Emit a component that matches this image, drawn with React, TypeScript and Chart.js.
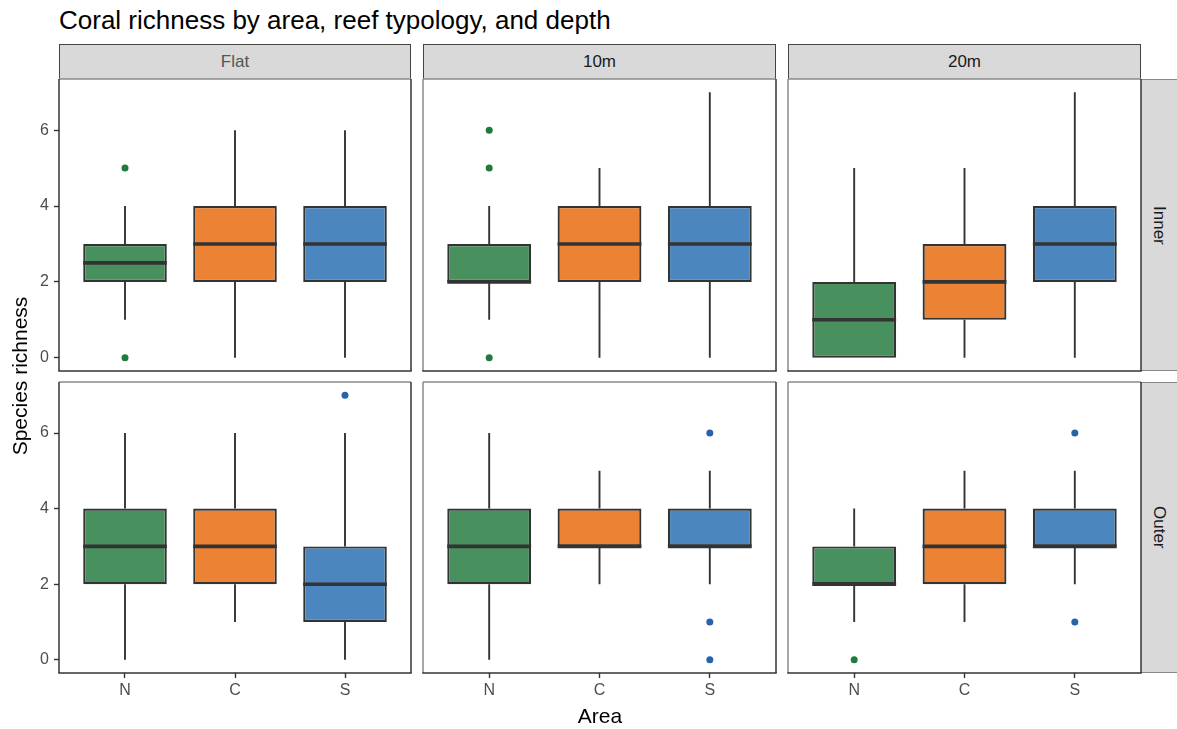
import React, { useEffect, useRef } from 'react';
import { Chart, registerables } from 'chart.js';
Chart.register(...registerables);

const FONT = '"Liberation Sans", Arial, Helvetica, sans-serif';

const AREAS = ['N', 'C', 'S'];
const DEPTHS = ['Flat', '10m', '20m'];
const TYPOLOGIES = ['Inner', 'Outer'];
const Y_TICKS = [0, 2, 4, 6];
const AREA_FILL = ['#48915E', '#EB8234', '#4C86BE'];
const AREA_POINT = ['#1F7A3B', '#D9691C', '#2763A8'];

// [lower whisker, q1, median, q3, upper whisker] for N, C, S
const INNER_FLAT = [[1, 2, 2.5, 3, 4], [0, 2, 3, 4, 6], [0, 2, 3, 4, 6]];
const INNER_10M = [[1, 2, 2, 3, 4], [0, 2, 3, 4, 5], [0, 2, 3, 4, 7]];
const INNER_20M = [[0, 0, 1, 2, 5], [0, 1, 2, 3, 5], [0, 2, 3, 4, 7]];
const OUTER_FLAT = [[0, 2, 3, 4, 6], [1, 2, 3, 4, 6], [0, 1, 2, 3, 6]];
const OUTER_10M = [[0, 2, 3, 4, 6], [2, 3, 3, 4, 5], [2, 3, 3, 4, 5]];
const OUTER_20M = [[1, 2, 2, 3, 4], [1, 2, 3, 4, 5], [2, 3, 3, 4, 5]];

// outliers for N, C, S
const INNER_FLAT_OUT = [[0, 5], [], []];
const INNER_10M_OUT = [[0, 5, 6], [], []];
const INNER_20M_OUT = [[], [], []];
const OUTER_FLAT_OUT = [[], [], [7]];
const OUTER_10M_OUT = [[], [], [6, 1, 0]];
const OUTER_20M_OUT = [[0], [], [6, 1]];

const PANEL_STATS = [
  [INNER_FLAT, INNER_10M, INNER_20M],
  [OUTER_FLAT, OUTER_10M, OUTER_20M],
];
const PANEL_OUT = [
  [INNER_FLAT_OUT, INNER_10M_OUT, INNER_20M_OUT],
  [OUTER_FLAT_OUT, OUTER_10M_OUT, OUTER_20M_OUT],
];

// layout (pixels)
const COL_X0 = [59, 423, 788];
const COL_X1 = [411, 776, 1141];
const ROW_Y0 = [79, 382];
const ROW_Y1 = [371, 673];
const STRIP_TOP = 44;
const STRIP_W = 36;

function Panel({ row, col }: { row: number; col: number }) {
  const ref = useRef<HTMLCanvasElement | null>(null);
  const showY = col === 0;
  const showX = row === 1;
  const Y_AXIS_W = 59;
  const X_AXIS_H = 40;
  const M = 20;
  const left = showY ? COL_X0[col] - Y_AXIS_W : COL_X0[col] - M;
  const top = ROW_Y0[row] - M;
  const w = COL_X1[col] + M - left;
  const h = ROW_Y1[row] + (showX ? X_AXIS_H : M) - top;
  const stats = PANEL_STATS[row][col];
  const outs = PANEL_OUT[row][col];

  useEffect(() => {
    if (!ref.current) return;
    const outPts: { x: number; y: number }[] = [];
    const outCols: string[] = [];
    outs.forEach((arr, i) => {
      arr.forEach((v) => {
        outPts.push({ x: i + 1, y: v });
        outCols.push(AREA_POINT[i]);
      });
    });

    const boxPlugin = {
      id: 'boxplot',
      beforeDatasetsDraw(chart: any) {
        const ctx = chart.ctx;
        const xs = chart.scales.x;
        const ys = chart.scales.y;
        ctx.save();
        ctx.strokeStyle = '#333333';
        ctx.lineWidth = 1.9;
        ctx.beginPath();
        stats.forEach((s, i) => {
          const x = xs.getPixelForValue(i + 1);
          ctx.moveTo(x, ys.getPixelForValue(s[0]));
          ctx.lineTo(x, ys.getPixelForValue(s[1]));
          ctx.moveTo(x, ys.getPixelForValue(s[3]));
          ctx.lineTo(x, ys.getPixelForValue(s[4]));
        });
        ctx.stroke();
        ctx.restore();
      },
      afterDatasetDraw(chart: any, args: any) {
        if (args.index !== 0) return;
        const ctx = chart.ctx;
        const ys = chart.scales.y;
        const meta = chart.getDatasetMeta(0);
        ctx.save();
        ctx.strokeStyle = '#333333';
        ctx.lineWidth = 3.6;
        ctx.beginPath();
        stats.forEach((s, i) => {
          const bar = meta.data[i];
          const p = bar.getProps(['x', 'width'], true);
          const y = ys.getPixelForValue(s[2]);
          ctx.moveTo(p.x - p.width / 2, y);
          ctx.lineTo(p.x + p.width / 2, y);
        });
        ctx.stroke();
        ctx.restore();
      },
      afterDraw(chart: any) {
        const ctx = chart.ctx;
        const a = chart.chartArea;
        ctx.save();
        ctx.lineWidth = 1.5;
        const line = (x1: number, y1: number, x2: number, y2: number, c: string) => {
          ctx.strokeStyle = c;
          ctx.beginPath();
          ctx.moveTo(x1, y1);
          ctx.lineTo(x2, y2);
          ctx.stroke();
        };
        line(a.left, a.top, a.right, a.top, '#8a8a8a');
        line(a.left, a.top, a.left, a.bottom, col === 0 ? '#333333' : '#8a8a8a');
        line(a.right, a.top, a.right, a.bottom, '#333333');
        line(a.left - 0.7, a.bottom, a.right + 0.7, a.bottom, '#333333');
        ctx.restore();
      },
    };

    const tickFont = { family: FONT, size: 16 };
    const chart = new Chart(ref.current, {
      type: 'bar',
      data: {
        datasets: [
          {
            type: 'bar',
            data: stats.map((s, i) => ({ x: i + 1, y: [s[1], s[3]] })) as any,
            backgroundColor: AREA_FILL,
            borderColor: '#333333',
            borderWidth: 2.2,
            borderSkipped: false,
            barPercentage: 0.76,
            categoryPercentage: 1,
            order: 2,
          } as any,
          {
            type: 'scatter',
            data: outPts as any,
            pointBackgroundColor: outCols,
            pointBorderWidth: 0,
            pointRadius: 3.5,
            order: 1,
          } as any,
        ],
      },
      options: {
        responsive: false,
        animation: false,
        events: [],
        layout: {
          padding: { left: showY ? 0 : M, right: M, top: M, bottom: showX ? 0 : M },
        },
        plugins: { legend: { display: false }, tooltip: { enabled: false } },
        scales: {
          x: {
            type: 'linear',
            min: 0.4,
            max: 3.6,
            offset: false,
            bounds: 'data',
            display: showX,
            afterBuildTicks: (s: any) => {
              s.ticks = AREAS.map((_, i) => ({ value: i + 1 }));
            },
            afterFit: (s: any) => {
              if (showX) s.height = X_AXIS_H;
            },
            ticks: {
              callback: (v: any) => AREAS[Math.round(Number(v)) - 1] ?? '',
              color: '#4d4d4d',
              font: tickFont,
              padding: 3,
              autoSkip: false,
              maxRotation: 0,
            },
            grid: {
              offset: false,
              drawOnChartArea: false,
              drawTicks: true,
              tickLength: 5,
              tickColor: '#333333',
              tickWidth: 1.4,
            },
            border: { display: false },
          },
          y: {
            type: 'linear',
            min: -0.35,
            max: 7.35,
            bounds: 'data',
            display: showY,
            afterBuildTicks: (s: any) => {
              s.ticks = Y_TICKS.map((v) => ({ value: v }));
            },
            afterFit: (s: any) => {
              if (showY) s.width = Y_AXIS_W;
            },
            ticks: {
              color: '#4d4d4d',
              font: tickFont,
              padding: 5,
              autoSkip: false,
            },
            grid: {
              drawOnChartArea: false,
              drawTicks: true,
              tickLength: 5,
              tickColor: '#333333',
              tickWidth: 1.4,
            },
            border: { display: false },
          },
        },
      } as any,
      plugins: [boxPlugin],
    });
    return () => chart.destroy();
  }, []);

  return (
    <canvas
      ref={ref}
      width={w}
      height={h}
      style={{ position: 'absolute', left, top, width: w, height: h }}
    />
  );
}

export default function App() {
  const panels = [];
  for (let r = 0; r < 2; r++) for (let c = 0; c < 3; c++) panels.push(<Panel key={`${r}-${c}`} row={r} col={c} />);
  return (
    <div
      style={{
        position: 'fixed',
        left: 0,
        top: 0,
        width: 1177,
        height: 729,
        background: '#ffffff',
        overflow: 'hidden',
        fontFamily: FONT,
      }}
    >
      <div
        style={{
          position: 'absolute',
          left: 59,
          top: 5,
          fontSize: 26,
          lineHeight: '30px',
          color: '#000',
          whiteSpace: 'nowrap',
        }}
      >
        Coral richness by area, reef typology, and depth
      </div>
      {DEPTHS.map((d, i) => (
        <div
          key={d}
          style={{
            position: 'absolute',
            left: COL_X0[i],
            top: STRIP_TOP,
            width: COL_X1[i] - COL_X0[i],
            height: ROW_Y0[0] - STRIP_TOP,
            boxSizing: 'border-box',
            background: '#d9d9d9',
            border: '1.3px solid #444',
            borderBottom: 'none',
            display: 'flex',
            alignItems: 'center',
            justifyContent: 'center',
            fontSize: 17,
            color: i === 0 ? '#555555' : '#1a1a1a',
          }}
        >
          {d}
        </div>
      ))}
      {TYPOLOGIES.map((t, i) => (
        <div
          key={t}
          style={{
            position: 'absolute',
            left: COL_X1[2],
            top: ROW_Y0[i],
            width: STRIP_W + 4,
            height: ROW_Y1[i] - ROW_Y0[i],
            boxSizing: 'border-box',
            background: '#d9d9d9',
            borderTop: '1.3px solid #888',
            borderBottom: '1.3px solid #888',
            display: 'flex',
            alignItems: 'center',
            justifyContent: 'center',
            paddingRight: 4,
            fontSize: 17,
            color: '#1a1a1a',
          }}
        >
          <span style={{ writingMode: 'vertical-rl' }}>{t}</span>
        </div>
      ))}
      {panels}
      <div
        style={{
          position: 'absolute',
          left: 20 - 150,
          top: 376 - 12,
          width: 300,
          height: 24,
          lineHeight: '24px',
          textAlign: 'center',
          fontSize: 21,
          color: '#000',
          transform: 'rotate(-90deg)',
        }}
      >
        Species richness
      </div>
      <div
        style={{
          position: 'absolute',
          left: 600 - 150,
          top: 704,
          width: 300,
          height: 24,
          lineHeight: '24px',
          textAlign: 'center',
          fontSize: 21,
          color: '#000',
        }}
      >
        Area
      </div>
    </div>
  );
}
